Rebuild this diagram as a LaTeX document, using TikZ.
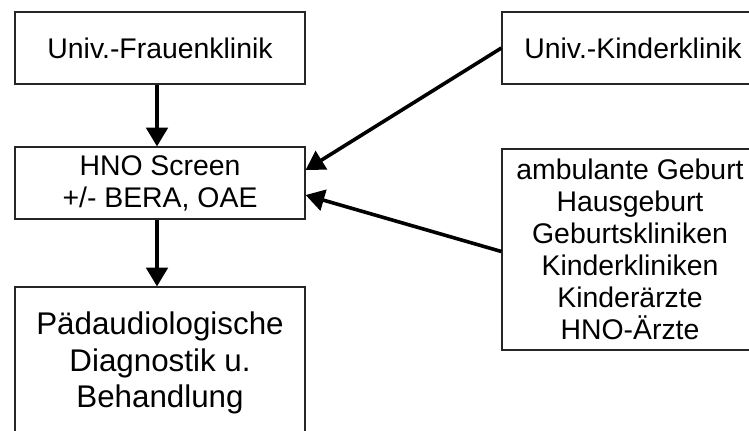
\documentclass[tikz,border=0pt]{standalone}
\usepackage{fontspec}
\setmainfont{Liberation Sans}
\usetikzlibrary{arrows.meta}
\begin{document}
\begin{tikzpicture}[x=0.75pt,y=-0.75pt,
  box/.style={draw=black!85,line width=0.9pt,align=center,inner sep=0pt,
    font=\fontsize{21.3}{24}\selectfont},
  arr/.style={line width=2.7pt,-{Triangle[length=14pt,width=16pt]}}]
\useasboundingbox (0,0) rectangle (749,430);
\clip (0,0) rectangle (749,430);
% left column
\node[box,minimum width=290*0.75pt,minimum height=72*0.75pt] (fk) at (160,48) {Univ.-Frauenklinik};
\node[box,minimum width=290*0.75pt,minimum height=72*0.75pt] (hno) at (160,183) {HNO Screen\\+/- BERA, OAE};
\node[box,minimum width=290*0.75pt,minimum height=152*0.75pt,
  font=\fontsize{23.5}{27.4}\selectfont] (pad) at (160,363)
  {Pädaudiologische\\Diagnostik u.\\Behandlung};
% right column
\node[box,minimum width=262*0.75pt,minimum height=72*0.75pt] (kk) at (633,48) {Univ.-Kinderklinik};
\node[box,minimum width=256*0.75pt,minimum height=201*0.75pt] (amb) at (630,249.5)
  {ambulante Geburt\\Hausgeburt\\Geburtskliniken\\Kinderkliniken\\Kinderärzte\\HNO-Ärzte};
% connectors
\draw[arr] ([xshift=-2.25pt]fk.south) -- ([xshift=-2.25pt]hno.north);
\draw[arr] ([xshift=-2.25pt]hno.south) -- ([xshift=-2.25pt]pad.north);
\draw[arr] (kk.west) -- ([yshift=9.75pt]hno.east);
\draw[arr] ([yshift=-1.5pt]amb.west) -- ([yshift=-9pt]hno.east);
\end{tikzpicture}
\end{document}
